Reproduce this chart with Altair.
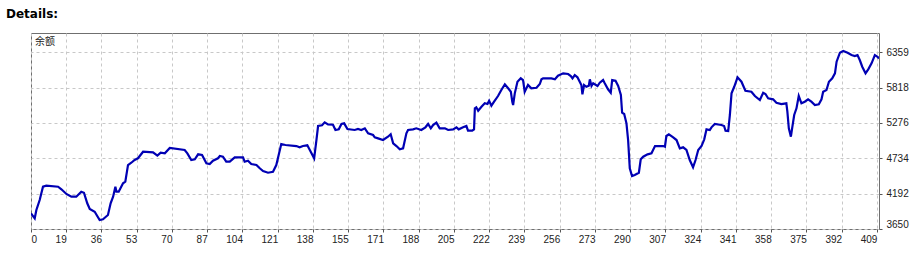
import json
import altair as alt
import pandas as pd

# Balance curve vertices (trade index, balance)
X_IDX = [0, 1.8, 2.6, 4.2, 5.8, 7.4, 13.1, 14.7, 17.1, 19.5, 21.9, 24.3, 25.6, 27.2, 28.4, 30.8,
         33.2, 34.8, 37.2, 38.5, 39.7, 40.8, 41.3, 42.4, 44.5, 45.6, 46.9, 48.5, 50.1, 51.7, 54.2,
         59.0, 61.1, 62.7, 64.7, 67.1, 74.3, 75.6, 77.5, 79.2, 80.8, 82.7, 84.8, 86.4, 88.0, 90.4,
         91.3, 92.8, 94.4, 96.1, 98.5, 102.5, 103.3, 104.9, 106.5, 109.0, 110.6, 112.2, 114.6,
         117.0, 118.6, 121.0, 123.0, 128.3, 129.9, 131.5, 133.6, 134.8, 136.9, 138.0, 138.8, 140.7,
         142.0, 143.6, 146.0, 147.2, 148.8, 150.1, 151.4, 153.0, 156.5, 158.1, 159.7, 161.4, 163.0,
         165.4, 166.2, 167.8, 170.2, 172.6, 173.9, 175.1, 176.7, 178.3, 179.9, 181.5, 182.3, 184.7,
         186.3, 188.7, 190.7, 192.0, 193.3, 194.4, 196.0, 197.6, 200.1, 201.7, 204.1, 205.7, 206.8,
         208.9, 210.5, 211.3, 213.3, 214.2, 214.6, 215.3, 216.2, 217.8, 219.4, 220.7, 221.5, 222.6,
         223.9, 225.8, 227.4, 229.1, 230.7, 232.0, 232.7, 233.1, 233.9, 235.2, 236.8, 237.9, 238.7,
         240.3, 241.9, 244.4, 246.0, 246.8, 247.6, 251.6, 253.3, 254.8, 257.3, 259.7, 261.0, 261.8,
         262.9, 264.2, 265.3, 266.1, 266.6, 267.4, 268.5, 269.7, 270.2, 271.0, 271.8, 273.9, 275.0,
         276.6, 277.4, 279.0, 280.3, 281.0, 282.6, 283.9, 285.2, 285.8, 286.8, 287.9, 288.7, 289.5,
         290.6, 291.9, 293.9, 294.8, 296.0, 298.1, 300.0, 301.7, 305.7, 306.5, 307.2, 308.4, 310.5,
         312.1, 313.7, 315.3, 316.9, 318.5, 320.1, 321.3, 322.6, 324.2, 325.5, 326.6, 328.2, 329.0,
         330.6, 333.8, 335.1, 335.8, 337.1, 337.9, 338.7, 340.0, 341.6, 343.5, 345.4, 348.3, 350.0,
         352.4, 354.0, 355.1, 356.4, 358.8, 360.4, 362.8, 365.2, 365.7, 366.4, 367.4, 368.0, 369.0,
         370.1, 371.2, 372.5, 374.1, 375.7, 377.3, 379.0, 380.9, 382.2, 383.0, 384.6, 385.8, 387.4,
         388.7, 389.5, 391.1, 392.7, 394.8, 396.7, 398.3, 399.6, 400.7, 401.9, 403.5, 404.8, 406.4,
         408.0, 409.3, 410.0]
BALANCE = [3891, 3814, 3941, 4095, 4298, 4314, 4298, 4259, 4187, 4145, 4145, 4222, 4206, 4044, 3957,
           3915, 3788, 3799, 3865, 4044, 4145, 4298, 4222, 4222, 4351, 4375, 4631, 4666, 4708, 4734,
           4835, 4826, 4774, 4820, 4810, 4892, 4861, 4810, 4708, 4718, 4795, 4784, 4657, 4646, 4697,
           4734, 4769, 4758, 4682, 4682, 4749, 4749, 4682, 4697, 4646, 4631, 4581, 4539, 4513, 4528,
           4631, 4953, 4938, 4922, 4902, 4922, 4933, 4861, 4734, 5014, 5229, 5240, 5286, 5255, 5249,
           5168, 5178, 5260, 5270, 5183, 5168, 5183, 5168, 5194, 5117, 5091, 5056, 5040, 5014, 5065,
           5102, 4964, 4922, 4872, 4887, 5117, 5168, 5178, 5194, 5168, 5209, 5260, 5194, 5244, 5280,
           5194, 5194, 5168, 5178, 5209, 5178, 5209, 5229, 5157, 5157, 5178, 5500, 5516, 5464, 5525,
           5577, 5566, 5617, 5540, 5602, 5689, 5781, 5868, 5807, 5755, 5602, 5551, 5730, 5908, 5960,
           5934, 5755, 5858, 5807, 5816, 5873, 5945, 5960, 5960, 5945, 6000, 6037, 6026, 5995, 5960,
           6011, 5976, 5908, 5858, 5715, 5858, 5831, 5847, 5945, 5842, 5884, 5842, 5893, 5934, 5884,
           5792, 5739, 5934, 5923, 5842, 5704, 5433, 5413, 5270, 5014, 4581, 4462, 4478, 4513, 4718,
           4758, 4795, 4810, 4922, 4922, 4912, 5076, 5102, 5056, 5014, 4887, 4902, 4861, 4708, 4596,
           4708, 4861, 4922, 5025, 5178, 5168, 5209, 5260, 5244, 5229, 5157, 5152, 5398, 5730, 5831,
           5976, 5908, 5770, 5755, 5689, 5628, 5739, 5720, 5654, 5638, 5586, 5566, 5577, 5448, 5194,
           5065, 5194, 5398, 5500, 5689, 5577, 5602, 5638, 5602, 5551, 5562, 5638, 5755, 5781, 5908,
           5960, 6037, 6215, 6353, 6379, 6353, 6317, 6302, 6317, 6241, 6138, 6037, 6098, 6190, 6317,
           6291, 6264]

X_TICK_LABELS = ["0", "19", "36", "53", "70", "87", "104", "121", "138", "155", "171", "188", "205",
                 "222", "239", "256", "273", "290", "307", "324", "341", "358", "375", "392", "409"]
Y_TICKS = [3650, 4192, 4734, 5276, 5818, 6359]
SERIES_LABEL = "余额"
HEADER = "Details:"

X_MAX = 409
n_int = len(X_TICK_LABELS) - 1
x_tick_pos = [k * X_MAX / n_int for k in range(n_int + 1)]
label_expr = json.dumps(X_TICK_LABELS) + f"[round(datum.value*{n_int}/{X_MAX})]"

df = pd.DataFrame({"idx": X_IDX, "balance": BALANCE})

grid_kw = dict(grid=True, gridColor="#c8c8c8", gridDash=[3, 3], gridWidth=1,
               domain=False, tickColor="#555555", tickSize=3, labelFont="Liberation Sans",
               labelFontSize=10, labelColor="#222222", title=None)

line = alt.Chart(df).mark_line(color="#0000b4", strokeWidth=2.2, clip=True).encode(
    x=alt.X("idx:Q", scale=alt.Scale(domain=[0, 410], nice=False, zero=False),
            axis=alt.Axis(values=x_tick_pos, labelExpr=label_expr, labelFlush=False,
                          labelAlign={"condition": {"test": "datum.value == 0", "value": "left"},
                                      "value": "right"},
                          labelPadding=2, **grid_kw)),
    y=alt.Y("balance:Q", scale=alt.Scale(domain=[3650, 6655], nice=False, zero=False),
            axis=alt.Axis(orient="right", values=Y_TICKS, format="d", labelFlush=True,
                          labelPadding=4, **grid_kw)),
)

series_txt = alt.Chart(pd.DataFrame({"t": [SERIES_LABEL]})).mark_text(
    align="left", baseline="middle", font="Noto Sans CJK SC", fontSize=10, color="#222222"
).encode(text="t:N", x=alt.value(4), y=alt.value(9))

header_txt = alt.Chart(pd.DataFrame({"t": [HEADER]})).mark_text(
    align="left", baseline="middle", font="DejaVu Sans", fontSize=12, fontWeight="bold",
    color="#000000"
).encode(text="t:N", x=alt.value(-25), y=alt.value(-19.5))

chart = alt.layer(line, series_txt, header_txt).properties(
    width=848, height=196,
    autosize=alt.AutoSizeParams(type="none"),
    padding={"left": 31, "top": 33, "right": 41, "bottom": 24},
    background="white",
).configure_view(stroke="#6f6f6f", strokeWidth=1)

chart.save("out.html", embed_options={"renderer": "svg", "actions": False})
